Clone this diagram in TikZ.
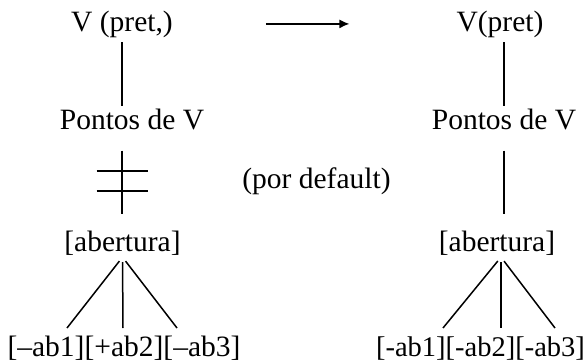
\documentclass[tikz,border=0pt]{standalone}
\usepackage{fontspec}
\setmainfont{Liberation Serif}
\usepackage{tikz}
\usetikzlibrary{arrows.meta,calc}

\tikzset{
    word/.style={inner sep=2pt, font=\fontsize{29.5}{33}\selectfont},
    link/.style={line width=1.5pt}
}

\begin{document}
\begin{tikzpicture}[x=1pt, y=-1pt]
    \useasboundingbox (0,0) rectangle (587,364);
    % left column
    \node[word, anchor=base] (vl) at (122,31) {V (pret,)};
    \node[word, anchor=base] (pl) at (132,129) {Pontos de V};
    \node[word, anchor=base] (al) at (122.5,251) {[abertura]};
    \node[word, anchor=base] (bl) at (124,356) {[--ab1][+ab2][--ab3]};
    % right column
    \node[word, anchor=base] (vr) at (500,31) {V(pret)};
    \node[word, anchor=base] (pr) at (504,129) {Pontos de V};
    \node[word, anchor=base] (ar) at (497,251) {[abertura]};
    \node[word, anchor=base, font=\fontsize{28.5}{33}\selectfont] (br) at (480.5,356) {[-ab1][-ab2][-ab3]};
    % middle
    \node[word, anchor=base] (dflt) at (316.5,188) {(por default)};

    % arrow between the two trees
    \draw[line width=1.3pt, -{Latex[length=10pt, width=9pt]}, shorten <=91pt, shorten >=105pt] (vl.east) -- (vr.west |- vl.east);

    % left links
    \draw[link, shorten <=3pt] (vl.south) -- (vl.south |- pl.north);
    \draw[link, shorten <=19pt, shorten >=14pt] (vl.south |- pl.south) -- (vl.south |- al.north);
    \coordinate (cut) at ($(vl.south |- pl.south)!0.5!(vl.south |- al.north)$);
    \draw[link] ([shift={(-25.5,-9)}]cut) -- ++(51,0);
    \draw[link] ([shift={(-25.5,11)}]cut) -- ++(51,0);

    % right links
    \draw[link, shorten <=3pt] (vr.south -| pr.north) -- (pr.north);
    \draw[link, shorten <=19pt, shorten >=14pt] (pr.south) -- (pr.south |- ar.north);

    % left tree
    \coordinate (l1) at (67,328);
    \coordinate (l2) at (123,328);
    \coordinate (l3) at (177,328);
    \foreach \leaf in {l1,l2,l3}
        \draw[link, shorten <=5pt] (al.south) -- (\leaf);

    % right tree
    \coordinate (r1) at (443,328);
    \coordinate (r2) at (501,328);
    \coordinate (r3) at (555,328);
    \foreach \leaf in {r1,r2,r3}
        \draw[link, shorten <=5pt] ([xshift=4pt]ar.south) -- (\leaf);
\end{tikzpicture}
\end{document}
